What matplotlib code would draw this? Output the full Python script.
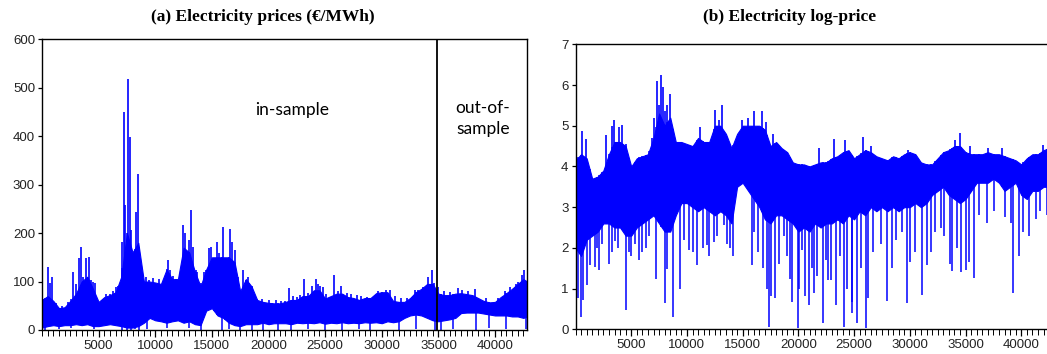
import numpy as np
import matplotlib
matplotlib.use("Agg")
import matplotlib.pyplot as plt
from matplotlib.ticker import MultipleLocator

# ---------------- data ----------------
N_HOURS = 42850
SPLIT_HOUR = 34880

grid_hours = [0, 500, 1000, 1500, 2000, 2500, 3000, 3500, 4000, 4500,
              5000, 5500, 6000, 6500, 7000, 7500, 8000, 8500, 9000, 9500,
              10000, 10500, 11000, 11500, 12000, 12500, 13000, 13500, 14000, 14500,
              15000, 15500, 16000, 16500, 17000, 17500, 18000, 18500, 19000, 19500,
              20000, 20500, 21000, 21500, 22000, 22500, 23000, 23500, 24000, 24500,
              25000, 25500, 26000, 26500, 27000, 27500, 28000, 28500, 29000, 29500,
              30000, 30500, 31000, 31500, 32000, 32500, 33000, 33500, 34000, 34500,
              35000, 35500, 36000, 36500, 37000, 37500, 38000, 38500, 39000, 39500,
              40000, 40500, 41000, 41500, 42000, 42500, 42850]

# (a) price: dense band upper / lower edges
price_upper = [62, 70, 60, 45, 47, 60, 75, 100, 110, 85,
               58, 68, 72, 78, 110, 200, 160, 180, 100, 100,
               98, 95, 125, 105, 105, 170, 160, 120, 90, 125,
               150, 150, 150, 150, 140, 80, 105, 90, 62, 58,
               56, 55, 55, 58, 62, 62, 70, 70, 82, 82,
               65, 70, 75, 75, 68, 66, 62, 66, 66, 76,
               78, 78, 60, 58, 58, 66, 78, 85, 95, 95,
               75, 72, 72, 75, 76, 74, 72, 66, 60, 57,
               58, 68, 76, 85, 95, 105, 100]
price_lower = [5, 8, 10, 8, 10, 10, 12, 10, 12, 8,
               8, 10, 12, 10, 8, 5, 5, 8, 15, 25,
               20, 18, 15, 18, 20, 15, 18, 12, 10, 40,
               45, 30, 25, 15, 10, 8, 12, 12, 12, 15,
               12, 14, 14, 14, 12, 15, 14, 15, 14, 16,
               13, 15, 14, 16, 14, 15, 14, 16, 15, 16,
               14, 18, 16, 18, 25, 30, 32, 30, 25, 20,
               18, 20, 22, 25, 35, 36, 36, 36, 34, 32,
               30, 30, 30, 28, 28, 25, 28]
# (a) upward spikes
price_spike_hours = [200, 503, 680, 890, 1200, 1800, 2300, 2740, 3000, 3240,
                     3415, 3600, 3880, 4120, 4330, 4500, 4710, 5300, 5650, 6000,
                     6300, 6500, 6710, 7060, 7210, 7360, 7620, 7740, 7860, 7970,
                     8180, 8300, 8440, 8550, 8800, 9200, 9440, 9800, 10300, 10700,
                     11120, 11320, 11600, 11850, 12150, 12440, 12650, 12940, 13120, 13290,
                     13620, 13680, 14060, 14300, 14500, 14760, 14940, 15200, 15470, 15650,
                     15970, 16180, 16380, 16620, 16820, 17060, 17300, 17790, 18000, 18200,
                     18320, 18530, 18970, 19400, 20000, 20290, 20700, 21100, 21470, 21820,
                     22200, 22500, 22800, 23140, 23520, 23800, 24170, 24400, 24560, 24850,
                     25100, 25410, 25790, 26100, 26410, 26910, 27300, 27790, 28200, 28670,
                     29260, 29700, 30000, 30400, 30730, 31200, 31700, 32200, 32930, 33230,
                     33600, 34110, 34430, 34600, 34960, 35500, 36000, 36750, 37100, 37600,
                     38230, 39200, 40300, 40900, 41300, 41840, 42000, 42340, 42550]
price_spike_vals = [65, 131, 97, 109, 55, 50, 58, 120, 95, 148,
                    172, 110, 148, 151, 103, 100, 96, 62, 74, 75,
                    80, 88, 90, 182, 450, 258, 519, 398, 206, 151,
                    165, 244, 322, 172, 117, 110, 103, 108, 105, 100,
                    144, 124, 112, 105, 115, 217, 201, 186, 248, 172,
                    124, 120, 96, 120, 124, 169, 172, 138, 181, 158,
                    213, 134, 131, 208, 182, 165, 110, 124, 103, 110,
                    96, 89, 65, 65, 62, 56, 62, 60, 60, 86,
                    70, 69, 72, 105, 76, 90, 105, 95, 91, 88,
                    75, 69, 113, 80, 91, 76, 74, 72, 70, 69,
                    69, 80, 79, 82, 83, 70, 66, 66, 83, 83,
                    88, 109, 124, 96, 89, 80, 78, 86, 82, 80,
                    85, 66, 66, 80, 88, 95, 100, 113, 124]
# (a) downward spikes
price_dip_hours = [300, 1500, 2600, 4600, 7100, 7500, 7900, 8200, 8600, 9300,
                   11000, 13000, 14000, 15900, 16500, 17500, 18500, 19500, 20800, 22000,
                   23500, 25000, 26500, 28000, 29000, 31500, 33000, 34700, 35200, 36300,
                   38300, 39500, 41000, 42700]
price_dip_vals = [1, 3, 4, 2, 0, 1, 0, 2, 0, 3,
                  4, 5, 0, 1, 2, 0, 0, 1, 0, 1,
                  2, 0, 0, 2, 1, 0, 2, 0, 0, 3,
                  0, 4, 3, 2]

# (b) log-price: dense band upper / lower edges
logp_upper = [4.15, 4.3, 4.2, 3.7, 3.75, 3.9, 4.3, 4.6, 4.6, 4.5,
              4.0, 4.2, 4.25, 4.3, 4.7, 5.3, 5.0, 5.2, 4.6, 4.6,
              4.55, 4.5, 4.7, 4.6, 4.6, 5.0, 5.0, 4.8, 4.45, 4.8,
              5.0, 5.0, 5.0, 5.0, 4.9, 4.5, 4.6, 4.45, 4.35, 4.1,
              4.05, 4.05, 4.0, 4.05, 4.1, 4.1, 4.2, 4.25, 4.35, 4.4,
              4.2, 4.3, 4.4, 4.35, 4.25, 4.2, 4.15, 4.25, 4.2, 4.3,
              4.35, 4.3, 4.1, 4.05, 4.05, 4.2, 4.35, 4.4, 4.5, 4.5,
              4.35, 4.3, 4.3, 4.3, 4.35, 4.3, 4.3, 4.25, 4.2, 4.15,
              4.05, 4.2, 4.3, 4.3, 4.4, 4.45, 4.4]
logp_lower = [2.0, 1.8, 2.2, 2.3, 2.4, 2.6, 2.6, 2.5, 2.5, 2.3,
              2.3, 2.5, 2.6, 2.7, 2.8, 2.6, 2.4, 2.4, 2.8, 3.1,
              3.1, 3.0, 2.9, 3.0, 2.9, 2.8, 2.9, 2.8, 2.6, 3.5,
              3.6, 3.4, 3.2, 3.0, 2.7, 2.6, 2.8, 2.8, 2.7, 2.6,
              2.4, 2.5, 2.4, 2.6, 2.5, 2.6, 2.6, 2.7, 2.6, 2.8,
              2.7, 2.9, 2.8, 3.0, 2.9, 3.0, 2.9, 3.0, 2.9, 3.0,
              3.0, 3.1, 3.0, 3.1, 3.3, 3.4, 3.5, 3.3, 3.2, 3.1,
              3.2, 3.4, 3.6, 3.6, 3.6, 3.7, 3.6, 3.4, 3.5, 3.6,
              3.3, 3.2, 3.4, 3.4, 3.5, 3.5, 3.5]
logp_spike_hours = [550, 950, 2730, 3240, 3420, 3930, 4140, 4500, 6900, 7050,
                    7310, 7500, 7690, 7810, 8000, 8200, 8500, 8860, 9500, 11190,
                    12540, 12840, 13140, 14930, 15440, 16000, 16700, 17090, 17700, 21860,
                    23210, 24170, 25840, 26560, 29840, 34050, 34500, 35400, 37000, 38260,
                    41970]
logp_spike_vals = [4.88, 4.67, 4.77, 5.0, 5.14, 4.96, 5.02, 4.55, 4.7, 5.18,
                   6.11, 5.5, 6.25, 5.96, 5.36, 5.51, 5.78, 4.73, 4.6, 4.96,
                   5.39, 5.14, 5.51, 5.15, 5.18, 5.36, 5.36, 5.1, 4.8, 4.45,
                   4.67, 4.65, 4.73, 4.49, 4.41, 4.65, 4.81, 4.49, 4.45, 4.45,
                   4.53]
logp_dip_hours = [250, 460, 700, 1060, 1270, 1720, 1900, 2110, 2400, 3000,
                  3300, 3540, 3800, 4530, 4800, 5000, 5300, 5700, 6000, 6300,
                  6600, 7220, 8050, 8230, 8740, 9380, 9700, 10200, 10530, 10900,
                  11400, 11800, 12000, 12400, 12700, 13300, 13600, 13900, 14120, 15820,
                  16000, 16360, 16800, 17170, 17380, 17560, 17920, 18300, 18700, 19000,
                  19260, 19470, 19950, 20100, 20300, 20610, 20970, 21200, 21400, 21690,
                  22250, 22500, 22690, 22950, 23420, 23700, 24070, 24400, 24770, 24850,
                  25300, 25600, 26050, 26230, 26700, 27400, 27990, 28400, 28800, 29300,
                  29780, 30000, 30500, 31100, 31540, 31900, 32300, 32800, 33100, 33610,
                  33750, 34200, 34600, 35010, 35300, 35760, 36200, 36900, 37600, 38500,
                  39100, 39290, 39830, 40200, 40700, 41300, 41700, 42300]
logp_dip_vals = [0.76, 0.31, 0.72, 1.09, 1.57, 1.53, 2.0, 1.45, 2.1, 1.6,
                 1.9, 2.18, 2.0, 0.47, 1.9, 1.8, 2.1, 1.7, 1.9, 2.0,
                 2.3, 1.23, 0.65, 1.49, 0.31, 1.0, 2.2, 1.95, 1.9, 1.57,
                 2.0, 2.06, 1.8, 2.15, 2.3, 2.56, 2.1, 2.0, 1.8, 1.57,
                 2.4, 1.9, 1.5, 1.0, 0.06, 0.83, 0.78, 1.6, 2.3, 1.8,
                 1.23, 0.67, 0.02, 1.0, 1.95, 0.83, 0.6, 1.5, 0.9, 1.3,
                 0.15, 1.7, 1.2, 1.2, 0.6, 1.8, 0.06, 1.0, 0.41, 0.67,
                 0.16, 1.5, 0.04, 0.76, 1.9, 2.1, 0.7, 1.5, 2.2, 2.4,
                 0.65, 1.65, 1.9, 0.85, 1.58, 1.9, 2.4, 2.5, 2.3, 1.6,
                 1.43, 2.0, 1.4, 1.45, 1.65, 1.25, 2.8, 2.6, 2.9, 2.75,
                 2.6, 0.9, 1.8, 2.4, 2.3, 2.7, 2.9, 2.8]

x_major = [5000, 10000, 15000, 20000, 25000, 30000, 35000, 40000]

# ---------------- figure ----------------
W, H = 1047, 354
fig = plt.figure(figsize=(W / 100, H / 100), dpi=100)
BLUE = (0, 0, 1)
tick_font = dict(family="Liberation Sans", size=9.5)


def px_ax(l, r, b, t):
    return [l / W, 1 - b / H, (r - l) / W, (b - t) / H]


def draw_series(ax, upper, lower, sh, sv, dh, dv):
    g = np.asarray(grid_hours, float)
    up = np.asarray(upper, float)
    lo = np.asarray(lower, float)
    ax.fill_between(g, lo, up, color=BLUE, lw=0.8, edgecolor=BLUE)
    sh = np.asarray(sh, float)
    dh = np.asarray(dh, float)
    ax.vlines(sh, np.interp(sh, g, lo), sv, color=BLUE, lw=1.2)
    ax.vlines(dh, dv, np.interp(dh, g, up), color=BLUE, lw=1.1)


def style(ax, ymax, ystep):
    ax.set_xlim(0, N_HOURS)
    ax.set_ylim(0, ymax)
    ax.set_xticks(x_major)
    ax.xaxis.set_minor_locator(MultipleLocator(500))
    ax.yaxis.set_major_locator(MultipleLocator(ystep))
    ax.tick_params(axis="x", which="major", direction="out", length=5, width=0.9,
                   pad=2, colors="black")
    ax.tick_params(axis="x", which="minor", direction="out", length=4, width=0.7)
    ax.tick_params(axis="y", which="major", direction="out", length=3, width=0.9, pad=2)
    for lab in ax.get_xticklabels() + ax.get_yticklabels():
        lab.set_fontfamily(tick_font["family"])
        lab.set_fontsize(tick_font["size"])
        lab.set_color("#222222")
    for sp in ax.spines.values():
        sp.set_linewidth(1.0)
        sp.set_color("black")


# panel (a)
axA = fig.add_axes(px_ax(42, 527.3, 330, 39.3))
draw_series(axA, price_upper, price_lower, price_spike_hours, price_spike_vals,
            price_dip_hours, price_dip_vals)
axA.axvline(SPLIT_HOUR, color="black", lw=1.3)
style(axA, 600, 100)
axA.text(292 / W, 1 - 110 / H, "in-sample", transform=fig.transFigure,
         ha="center", va="center", fontsize=12.5, family="Lato")
axA.text(483 / W, 1 - 108 / H, "out-of-", transform=fig.transFigure,
         ha="center", va="center", fontsize=12.5, family="Lato")
axA.text(483 / W, 1 - 129 / H, "sample", transform=fig.transFigure,
         ha="center", va="center", fontsize=12.5, family="Lato")

# panel (b)
axB = fig.add_axes(px_ax(575.5, 1053, 329.3, 44.3))
draw_series(axB, logp_upper, logp_lower, logp_spike_hours, logp_spike_vals,
            logp_dip_hours, logp_dip_vals)
style(axB, 7, 1)

fig.text(263 / W, 1 - 17 / H, "(a) Electricity prices (€/MWh)", ha="center",
         va="center", fontsize=12.5, fontweight="bold", family="Liberation Serif")
fig.text(790 / W, 1 - 17 / H, "(b) Electricity log-price", ha="center",
         va="center", fontsize=12.5, fontweight="bold", family="Liberation Serif")

fig.savefig("out.png", dpi=100)
